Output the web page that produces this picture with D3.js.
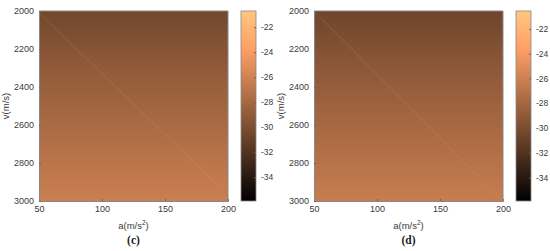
<!DOCTYPE html>
<html>
<head>
<meta charset="utf-8">
<script src="https://cdn.jsdelivr.net/npm/d3@7"></script>
<style>
  body { margin: 0; background: #fff; }
  svg { display: block; }
  text { font-family: "Liberation Sans", Arial, sans-serif; fill: #3a3a3a; }
</style>
</head>
<body>
<div id="chart"></div>
<script>
// data
var a_domain = [50, 200],
    v_domain = [2000, 3000],
    a_ticks = [50, 100, 150, 200],
    v_ticks = [2000, 2200, 2400, 2600, 2800, 3000],
    cbar_ticks = [-22, -24, -26, -28, -30, -32, -34];

// rows of the map (value is constant along a)
var v_rows = [2000, 2100, 2200, 2300, 2400, 2500, 2600, 2700, 2800, 2900, 3000];
var values_c = [-30.5, -30.0, -29.5, -29.0, -28.6, -28.2, -27.8, -27.4, -27.0, -26.6, -26.2];
var values_d = [-30.6, -30.1, -29.6, -29.1, -28.7, -28.3, -27.9, -27.5, -27.1, -26.7, -26.3];

// faint ridge line
var ridge_c = [[50, 2010], [194, 2930]];
var ridge_d = [[50, 2000], [200, 3000]];

var clim_c = [-35.9, -20.7],
    clim_d = [-35.9, -20.55];

var panels = [
  {id: 'c', left: 0, values: values_c, ridge: ridge_c, clim: clim_c},
  {id: 'd', left: 275, values: values_d, ridge: ridge_d, clim: clim_d}
];

// MATLAB copper
function copper(t) {
  t = Math.max(0, Math.min(1, t));
  return d3.rgb(Math.min(1, 1.25 * t) * 255, 0.7812 * t * 255, 0.4975 * t * 255);
}

var margin = {top: 11, left: 39},
    width_plot = 189,
    height_plot = 190,
    cbar_x = 202, cbar_w = 15;

var fmt = d3.format('d'),
    fmt_c = function(d) { return String(d); };

var svg = d3.select('#chart').append('svg')
    .attr('width', 550).attr('height', 251);
var defs = svg.append('defs');

panels.forEach(function(p) {
  var g = svg.append('g')
      .attr('transform', 'translate(' + (p.left + margin.left) + ',' + margin.top + ')');

  var x = d3.scaleLinear().domain(a_domain).range([0, width_plot]),
      y = d3.scaleLinear().domain(v_domain).range([0, height_plot]),
      c = d3.scaleLinear().domain(p.clim).range([0, 1]),
      yc = d3.scaleLinear().domain(p.clim).range([height_plot, 0]);

  // map gradient (stops from the data rows)
  var grad = defs.append('linearGradient').attr('id', 'map_' + p.id)
      .attr('x1', 0).attr('y1', 0).attr('x2', 0).attr('y2', 1);
  v_rows.forEach(function(v, i) {
    grad.append('stop')
        .attr('offset', (y(v) / height_plot * 100) + '%')
        .attr('stop-color', copper(c(p.values[i])));
  });
  g.append('rect')
      .attr('x', x(a_domain[0])).attr('y', y(v_domain[0]))
      .attr('width', x(a_domain[1]) - x(a_domain[0]))
      .attr('height', y(v_domain[1]) - y(v_domain[0]))
      .attr('fill', 'url(#map_' + p.id + ')');

  g.append('path')
      .datum(p.ridge)
      .attr('d', d3.line().x(function(d) { return x(d[0]); }).y(function(d) { return y(d[1]); }))
      .attr('stroke', '#e8a878').attr('stroke-opacity', 0.12)
      .attr('stroke-width', 1.2).attr('fill', 'none');

  // axes
  var xAxis = g.append('g').attr('transform', 'translate(0,' + height_plot + ')')
      .call(d3.axisBottom(x).tickValues(a_ticks).tickFormat(fmt).tickSize(-2).tickPadding(5));
  var yAxis = g.append('g')
      .call(d3.axisLeft(y).tickValues(v_ticks).tickFormat(fmt).tickSize(-2).tickPadding(5));
  [xAxis, yAxis].forEach(function(ax) {
    ax.select('.domain').attr('stroke', '#888');
    ax.selectAll('.tick line').attr('stroke', '#666');
    ax.selectAll('text').attr('font-size', 9).attr('fill', '#3a3a3a')
        .attr('font-family', '"Liberation Sans", Arial, sans-serif');
  });
  g.append('line').attr('x1', 0).attr('x2', width_plot).attr('y1', 0).attr('y2', 0).attr('stroke', '#888');
  g.append('line').attr('x1', width_plot).attr('x2', width_plot).attr('y1', 0).attr('y2', height_plot).attr('stroke', '#888');

  // labels
  var xl = g.append('text').attr('x', width_plot / 2).attr('y', height_plot + 28)
      .attr('text-anchor', 'middle').attr('font-size', 9.5);
  xl.append('tspan').text('a(m/s');
  xl.append('tspan').attr('dy', -4).attr('font-size', 6.5).text('2');
  xl.append('tspan').attr('dy', 4).text(')');

  g.append('text')
      .attr('transform', 'translate(-30,' + (height_plot / 2) + ') rotate(-90)')
      .attr('text-anchor', 'middle').attr('font-size', 9.5).text('v(m/s)');

  g.append('text').attr('x', width_plot / 2).attr('y', height_plot + 43)
      .attr('text-anchor', 'middle').attr('font-size', 11.5).attr('font-weight', 'bold')
      .style('font-family', '"Liberation Serif", "DejaVu Serif", serif')
      .style('fill', '#222')
      .text('(' + p.id + ')');

  // colorbar
  var cg = g.append('g').attr('transform', 'translate(' + cbar_x + ',0)');
  var cgrad = defs.append('linearGradient').attr('id', 'cbar_' + p.id)
      .attr('x1', 0).attr('y1', 1).attr('x2', 0).attr('y2', 0);
  d3.range(0, 1.0001, 0.1).forEach(function(t) {
    cgrad.append('stop').attr('offset', (t * 100) + '%').attr('stop-color', copper(t));
  });
  cg.append('rect').attr('width', cbar_w).attr('height', height_plot)
      .attr('fill', 'url(#cbar_' + p.id + ')').attr('stroke', '#888').attr('stroke-width', 0.8);
  var cAxis = cg.append('g').attr('transform', 'translate(' + cbar_w + ',0)')
      .call(d3.axisRight(yc).tickValues(cbar_ticks).tickFormat(fmt_c).tickSize(-2).tickPadding(5));
  cAxis.select('.domain').remove();
  cAxis.selectAll('.tick line').attr('stroke', '#666');
  cAxis.selectAll('text').attr('font-size', 8.5).attr('fill', '#3a3a3a')
      .attr('font-family', '"Liberation Sans", Arial, sans-serif');
});
</script>
</body>
</html>
